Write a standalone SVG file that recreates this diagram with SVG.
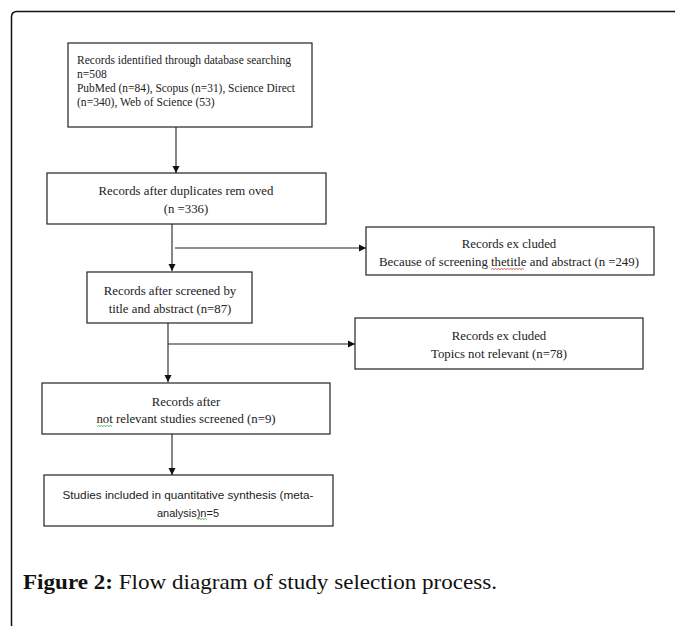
<svg xmlns="http://www.w3.org/2000/svg" width="675" height="626" viewBox="0 0 675 626">
<defs>
<marker id="ah" markerWidth="8" markerHeight="8" refX="7" refY="4" orient="auto" markerUnits="userSpaceOnUse">
<path d="M0,0.5 L7,4 L0,7.5 Z" fill="#111"/>
</marker>
<style>
.box{fill:#fff;stroke:#222;stroke-width:1.2}
.t{font-family:"Liberation Serif","Times New Roman",serif;font-size:12.8px;fill:#222}
.t1{font-family:"Liberation Serif","Times New Roman",serif;font-size:11.6px;fill:#222}
.c{text-anchor:middle}
.s{font-family:"Liberation Sans",Arial,sans-serif;font-size:11px;fill:#222;text-anchor:middle}
.ln{stroke:#222;stroke-width:1.1;fill:none}
.sq{fill:none;stroke-width:0.8}
</style>
</defs>
<rect width="675" height="626" fill="#fff"/>
<path d="M11.5,626 V17 Q11.5,11.5 17,11.5 H675" fill="none" stroke="#111" stroke-width="1.5"/>

<g id="connectors">
<line class="ln" x1="176" y1="127" x2="176" y2="173" marker-end="url(#ah)"/>
<line class="ln" x1="172" y1="224" x2="172" y2="271" marker-end="url(#ah)"/>
<line class="ln" x1="175" y1="248" x2="366" y2="248" marker-end="url(#ah)"/>
<line class="ln" x1="168" y1="323" x2="168" y2="382" marker-end="url(#ah)"/>
<line class="ln" x1="168" y1="344" x2="355" y2="344" marker-end="url(#ah)"/>
<line class="ln" x1="172" y1="434" x2="172" y2="475" marker-end="url(#ah)"/>
</g>

<g id="n1">
<rect class="box" x="68" y="43" width="244" height="84"/>
<text class="t1" x="77" y="64" textLength="214" lengthAdjust="spacingAndGlyphs">Records identified through database searching</text>
<text class="t1" x="77" y="78">n=508</text>
<text class="t1" x="77" y="92" textLength="218" lengthAdjust="spacingAndGlyphs">PubMed (n=84), Scopus (n=31), Science Direct</text>
<text class="t1" x="77" y="106">(n=340), Web of Science  (53)</text>
</g>

<g id="n2">
<rect class="box" x="47" y="173" width="279" height="51"/>
<text class="t c" x="186" y="195">Records after duplicates rem oved</text>
<text class="t c" x="186" y="213">(n =336)</text>
</g>

<g id="n3">
<rect class="box" x="87" y="272" width="165" height="51"/>
<text class="t c" x="170" y="295">Records after screened by</text>
<text class="t c" x="170" y="313">title and abstract (n=87)</text>
</g>

<g id="n4">
<rect class="box" x="366" y="227" width="288" height="48"/>
<text class="t c" x="509" y="248">Records ex cluded</text>
<text class="t c" x="509" y="266">Because of screening thetitle and abstract (n =249)</text>
<path class="sq" stroke="#d33" d="M491,269.5 l1.5,-1 l1.5,1 l1.5,-1 l1.5,1 l1.5,-1 l1.5,1 l1.5,-1 l1.5,1 l1.5,-1 l1.5,1 l1.5,-1 l1.5,1 l1.5,-1 l1.5,1 l1.5,-1 l1.5,1 l1.5,-1 l1.5,1 l1.5,-1 l1.5,1 l1.5,-1 l1.5,1"/>
</g>

<g id="n5">
<rect class="box" x="355" y="318" width="288" height="51"/>
<text class="t c" x="499" y="340">Records ex cluded</text>
<text class="t c" x="499" y="358">Topics not relevant (n=78)</text>
</g>

<g id="n6">
<rect class="box" x="42" y="383" width="288" height="51"/>
<text class="t c" x="186" y="406">Records after</text>
<text class="t c" x="186" y="423">not relevant studies screened (n=9)</text>
<path class="sq" stroke="#3a3" d="M97,426.5 l1.5,-1 l1.5,1 l1.5,-1 l1.5,1 l1.5,-1 l1.5,1 l1.5,-1 l1.5,1 l1.5,-1 l1.5,1"/>
</g>

<g id="n7">
<rect class="box" x="44" y="475" width="289" height="51"/>
<text class="s" x="188" y="499" textLength="251" lengthAdjust="spacingAndGlyphs">Studies included in quantitative synthesis (meta-</text>
<text class="s" x="188" y="517">analysis)n=5</text>
<path class="sq" stroke="#3a3" d="M198,519.5 l1.5,-1 l1.5,1 l1.5,-1 l1.5,1 l1.5,-1 l1.5,1"/>
</g>

<text x="23" y="589" font-family="'Liberation Serif','Times New Roman',serif" font-size="22" fill="#111" textLength="474" lengthAdjust="spacingAndGlyphs"><tspan font-weight="bold">Figure 2:</tspan> Flow diagram of study selection process.</text>
</svg>
